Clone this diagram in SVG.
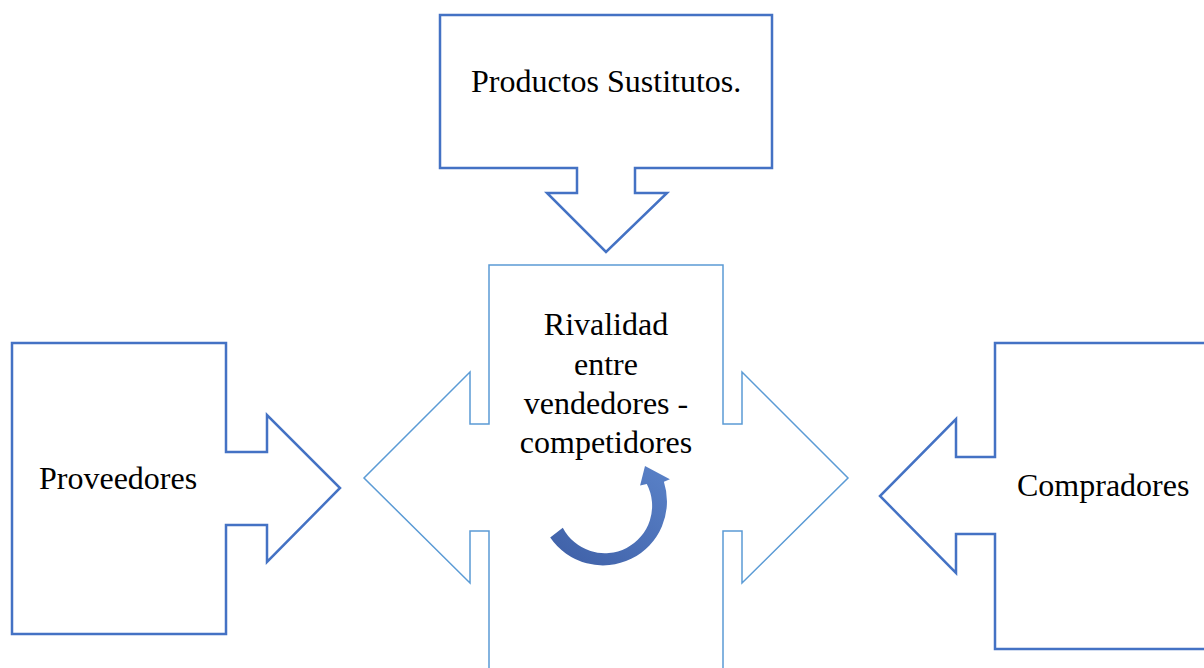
<svg xmlns="http://www.w3.org/2000/svg" width="1204" height="668" viewBox="0 0 1204 668">
<defs>
<style>
.callout{fill:#fff;stroke:#4472C4;stroke-width:2.5;stroke-linejoin:miter}
.center{fill:#fff;stroke:#5B9BD5;stroke-width:1.5;stroke-linejoin:miter}
.lbl{font-family:"Liberation Serif","Times New Roman",serif;font-size:32px;fill:#000}
</style>
<linearGradient id="arc" x1="0" y1="1" x2="1" y2="0">
<stop offset="0" stop-color="#3E5FA6"/>
<stop offset="1" stop-color="#5A82C8"/>
</linearGradient>
</defs>
<rect width="1204" height="668" fill="#fff"/>
<g id="rivalidad">
<path class="center" d="M489,668 V531 H470 V583 L364,478 L470,372 V424 H489 V265 H723 V424 H742 V372 L848,478 L742,583 V531 H723 V668"/>
<text class="lbl" text-anchor="middle" x="606" y="335">Rivalidad</text>
<text class="lbl" text-anchor="middle" x="606" y="375">entre</text>
<text class="lbl" text-anchor="middle" x="606" y="414">vendedores -</text>
<text class="lbl" text-anchor="middle" x="606" y="453">competidores</text>
<path fill="url(#arc)" d="M550.2,537.6 A64,64 0 0 0 663.9,481.8 L669.9,479.2 L645,466 L640.1,485.5 L646.8,484.1 A47,47 0 0 1 562.8,527.7 Z"/>
</g>
<g id="sustitutos">
<path class="callout" d="M440,15 H772 V168 H635 V193 H667 L606,252 L547,193 H577 V168 H440 Z"/>
<text class="lbl" x="471" y="92">Productos Sustitutos.</text>
</g>
<g id="proveedores">
<path class="callout" d="M12,343 H226 V452 H267 V415 L340,488 L267,562 V525 H226 V634 H12 Z"/>
<text class="lbl" x="39" y="489">Proveedores</text>
</g>
<g id="compradores">
<path class="callout" d="M1210,343 H995 V457 H956 V419 L880,496 L956,573 V534 H995 V649 H1210"/>
<text class="lbl" x="1017" y="496">Compradores</text>
</g>
<g id="connectors"></g>
</svg>
